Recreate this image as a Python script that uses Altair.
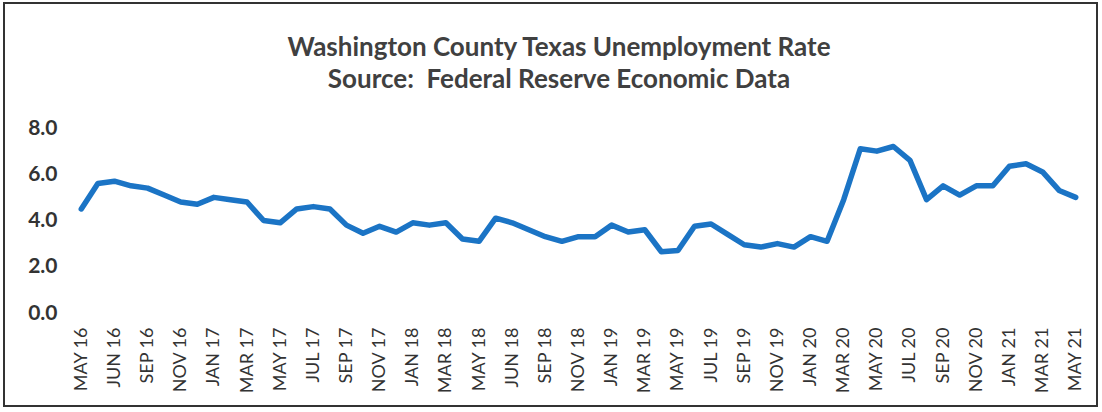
import altair as alt
import pandas as pd

title_lines = ["Washington County Texas Unemployment Rate",
               "Source:\u00a0\u00a0Federal Reserve Economic Data"]

rates = [4.5, 5.6, 5.7, 5.5, 5.4, 5.1, 4.8, 4.7, 5.0, 4.9,
         4.8, 4.0, 3.9, 4.5, 4.6, 4.5, 3.8, 3.45, 3.75, 3.5,
         3.9, 3.8, 3.9, 3.2, 3.1, 4.1, 3.9, 3.6, 3.3, 3.1,
         3.3, 3.3, 3.8, 3.5, 3.6, 2.65, 2.7, 3.75, 3.85, 3.4,
         2.95, 2.85, 3.0, 2.85, 3.3, 3.1, 4.9, 7.1, 7.0, 7.2,
         6.6, 4.9, 5.5, 5.1, 5.5, 5.5, 6.35, 6.45, 6.1, 5.3,
         5.0]

tick_labels = ["MAY 16", "JUN 16", "SEP 16", "NOV 16", "JAN 17", "MAR 17",
               "MAY 17", "JUL 17", "SEP 17", "NOV 17", "JAN 18", "MAR 18",
               "MAY 18", "JUN 18", "SEP 18", "NOV 18", "JAN 19", "MAR 19",
               "MAY 19", "JUL 19", "SEP 19", "NOV 19", "JAN 20", "MAR 20",
               "MAY 20", "JUL 20", "SEP 20", "NOV 20", "JAN 21", "MAR 21",
               "MAY 21"]

y_ticks = [0, 2, 4, 6, 8]

df = pd.DataFrame({"month": list(range(len(rates))), "rate": rates})
tick_values = [2 * i for i in range(len(tick_labels))]
label_expr = "[" + ",".join("'%s'" % t for t in tick_labels) + "][round(datum.value/2)]"

FONT = "Lato"
W, H = 1011, 185

line = alt.Chart(df).mark_line(color="#1B74C5", strokeWidth=5.5, strokeJoin="round", strokeCap="round").encode(
    x=alt.X("month:Q", scale=alt.Scale(domain=[-0.5, len(rates) - 0.5], nice=False, zero=False),
            axis=alt.Axis(values=tick_values, labelExpr=label_expr, labelAngle=270,
                          labelFontSize=18, labelColor="#333333", labelFont=FONT,
                          labelPadding=14, ticks=False, domain=False, grid=False,
                          title=None, labelOverlap=False, labelBound=False, labelFlush=False)),
    y=alt.Y("rate:Q", scale=alt.Scale(domain=[0, 8], nice=False),
            axis=alt.Axis(values=y_ticks, format=".1f", labelFontSize=21, labelFont=FONT,
                          labelFontWeight="bold", labelColor="#333333", labelPadding=16,
                          ticks=False, domain=False, grid=False, title=None)),
)

frame = alt.Chart(pd.DataFrame({"k": [0]})).mark_rect(fill=None, stroke="#333333", strokeWidth=2).encode(
    x=alt.value(-69), x2=alt.value(1024), y=alt.value(-125), y2=alt.value(278)
)

title1 = alt.Chart(pd.DataFrame({"text": [title_lines[0]]})).mark_text(
    font=FONT, fontSize=26, fontWeight="bold", color="#404040", align="center", baseline="alphabetic"
).encode(text="text:N", x=alt.value(486), y=alt.value(-72))
title2 = alt.Chart(pd.DataFrame({"text": [title_lines[1]]})).mark_text(
    font=FONT, fontSize=26, fontWeight="bold", color="#404040", align="center", baseline="alphabetic"
).encode(text="text:N", x=alt.value(486), y=alt.value(-40))

chart = alt.layer(frame, title1, title2, line).properties(
    width=W, height=H,
    autosize=alt.AutoSizeParams(type="none"),
    padding={"left": 73, "top": 128, "right": 18, "bottom": 99},
).configure_view(stroke=None)

chart.save("out.html", embed_options={"renderer": "svg", "actions": False})
